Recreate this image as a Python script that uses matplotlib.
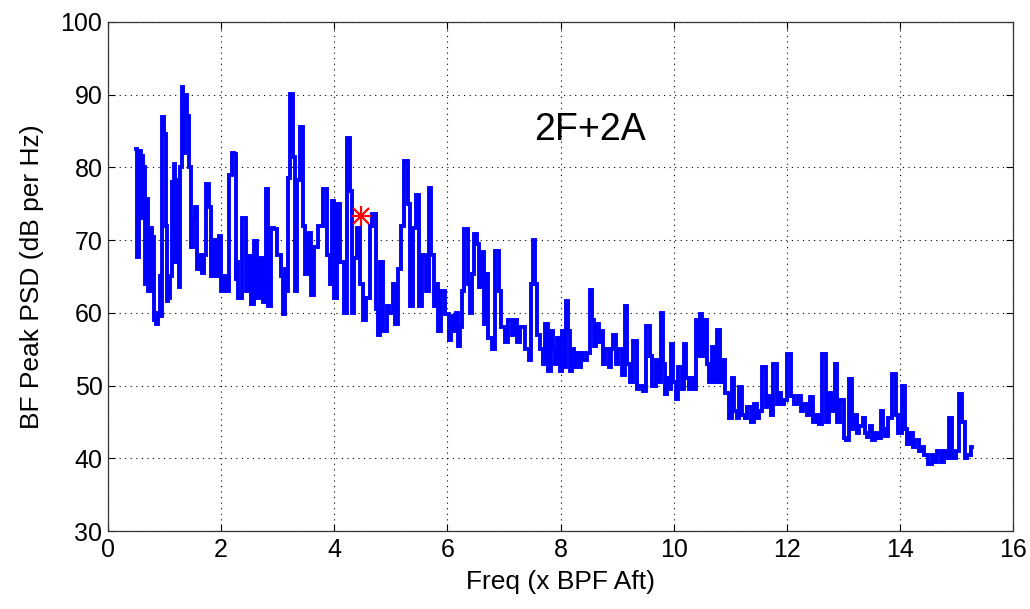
import matplotlib
matplotlib.use("Agg")
import matplotlib.pyplot as plt
import numpy as np

# ── data ─────────────────────────────────────────────────────────────────────

freq = [
    0.50, 0.51, 0.53, 0.55, 0.57, 0.60, 0.62, 0.64, 0.65, 0.69, 0.72, 0.76, 0.78, 0.80,
    0.83, 0.87, 0.90, 0.94, 0.95, 0.97, 1.01, 1.03, 1.04, 1.08, 1.11, 1.15, 1.17, 1.20,
    1.24, 1.27, 1.29, 1.31, 1.34, 1.38, 1.41, 1.45, 1.49, 1.52, 1.57, 1.59, 1.63, 1.68,
    1.71, 1.77, 1.80, 1.84, 1.89, 1.93, 1.98, 2.02, 2.07, 2.10, 2.16, 2.21, 2.25, 2.26,
    2.28, 2.33, 2.42, 2.46, 2.51, 2.55, 2.60, 2.65, 2.71, 2.76, 2.81, 2.85, 2.90, 2.97,
    3.02, 3.08, 3.11, 3.15, 3.18, 3.20, 3.25, 3.29, 3.31, 3.36, 3.41, 3.47, 3.50, 3.57,
    3.61, 3.68, 3.75, 3.85, 3.91, 3.94, 3.98, 4.01, 4.07, 4.14, 4.19, 4.26, 4.30, 4.33,
    4.38, 4.44, 4.47, 4.53, 4.60, 4.65, 4.70, 4.76, 4.79, 4.84, 4.90, 4.95, 5.00, 5.06,
    5.09, 5.16, 5.20, 5.27, 5.32, 5.36, 5.41, 5.48, 5.52, 5.59, 5.66, 5.68, 5.73, 5.78,
    5.82, 5.85, 5.92, 5.99, 6.05, 6.08, 6.14, 6.17, 6.21, 6.24, 6.28, 6.31, 6.35, 6.38,
    6.42, 6.44, 6.51, 6.54, 6.58, 6.61, 6.67, 6.70, 6.75, 6.81, 6.88, 6.93, 6.98, 7.05,
    7.11, 7.16, 7.20, 7.25, 7.32, 7.41, 7.46, 7.48, 7.53, 7.57, 7.60, 7.66, 7.71, 7.74,
    7.80, 7.85, 7.90, 7.92, 7.97, 8.01, 8.04, 8.08, 8.12, 8.15, 8.19, 8.22, 8.26, 8.31,
    8.35, 8.38, 8.43, 8.49, 8.54, 8.58, 8.61, 8.65, 8.70, 8.73, 8.77, 8.82, 8.88, 8.91,
    8.95, 9.00, 9.05, 9.11, 9.16, 9.19, 9.25, 9.32, 9.37, 9.42, 9.49, 9.55, 9.60, 9.65,
    9.71, 9.76, 9.79, 9.83, 9.87, 9.90, 9.94, 9.97, 10.02, 10.06, 10.11, 10.17, 10.20,
    10.25, 10.29, 10.34, 10.38, 10.41, 10.45, 10.48, 10.54, 10.57, 10.61, 10.64, 10.70,
    10.73, 10.79, 10.84, 10.89, 10.94, 11.00, 11.05, 11.09, 11.14, 11.17, 11.23, 11.28,
    11.33, 11.39, 11.44, 11.49, 11.53, 11.60, 11.65, 11.70, 11.74, 11.79, 11.85, 11.88,
    11.93, 11.97, 12.04, 12.11, 12.16, 12.22, 12.27, 12.32, 12.38, 12.43, 12.48, 12.54,
    12.59, 12.66, 12.71, 12.77, 12.82, 12.87, 12.92, 12.98, 13.03, 13.07, 13.12, 13.17,
    13.21, 13.26, 13.31, 13.37, 13.40, 13.44, 13.49, 13.53, 13.58, 13.63, 13.69, 13.72,
    13.77, 13.81, 13.90, 13.95, 14.00, 14.06, 14.11, 14.14, 14.20, 14.25, 14.30, 14.36,
    14.41, 14.46, 14.53, 14.59, 14.64, 14.69, 14.75, 14.80, 14.85, 14.90, 14.96, 15.01,
    15.08, 15.13, 15.17, 15.22, 15.28,
]

psd_db = [
    82.5, 74.0, 67.7, 73.0, 82.3, 81.5, 73.0, 80.0, 64.0, 75.6, 63.0, 71.7, 63.0, 70.4,
    59.0, 58.5, 60.0, 65.0, 59.5, 86.9, 84.6, 72.0, 61.6, 62.0, 65.0, 78.0, 80.5, 67.0,
    78.2, 63.5, 80.0, 91.1, 82.0, 90.0, 87.0, 80.0, 69.0, 73.0, 74.5, 66.0, 68.0, 65.5,
    68.0, 77.7, 74.5, 65.0, 70.0, 65.0, 70.5, 63.0, 65.0, 63.0, 79.0, 82.0, 81.8, 64.4,
    67.0, 62.0, 73.1, 63.0, 67.8, 61.2, 69.9, 62.0, 67.5, 61.5, 77.0, 61.0, 71.7, 71.5,
    68.0, 65.0, 59.8, 66.0, 63.0, 78.6, 90.1, 81.4, 63.0, 78.2, 85.5, 72.0, 65.3, 71.0,
    62.5, 69.0, 72.0, 77.0, 68.0, 64.0, 75.4, 62.0, 75.0, 67.0, 60.0, 84.1, 76.8, 60.0,
    67.5, 71.7, 64.0, 59.0, 62.0, 72.0, 73.6, 60.5, 57.0, 67.0, 57.5, 61.0, 60.0, 64.0,
    58.5, 66.0, 72.0, 80.9, 75.0, 61.0, 71.7, 76.2, 61.0, 68.0, 63.0, 77.2, 68.0, 61.0,
    64.0, 57.5, 63.0, 59.8, 56.2, 59.5, 57.5, 60.0, 55.5, 58.0, 63.0, 71.5, 71.5, 64.0,
    60.0, 65.3, 70.8, 69.5, 63.5, 68.3, 58.5, 65.3, 56.5, 55.0, 68.5, 63.0, 58.0, 56.0,
    59.0, 57.0, 59.0, 56.0, 58.0, 55.0, 53.5, 63.9, 70.0, 64.0, 57.0, 55.0, 53.0, 58.5,
    52.0, 57.5, 55.0, 53.0, 56.5, 52.0, 57.5, 52.5, 61.6, 57.5, 52.0, 55.0, 52.5, 54.5,
    52.5, 54.5, 53.5, 54.5, 63.2, 59.0, 55.5, 58.5, 56.0, 57.5, 53.0, 55.0, 52.5, 55.0,
    57.0, 53.0, 55.0, 51.5, 61.0, 53.0, 50.5, 56.1, 49.5, 50.0, 49.2, 58.2, 54.0, 50.0,
    53.5, 50.5, 60.0, 53.0, 48.9, 51.0, 49.5, 55.7, 50.5, 48.2, 52.5, 49.5, 55.7,
    51.0, 49.5, 51.0, 49.5, 59.0, 54.0, 59.9, 54.0, 59.0, 53.0, 50.5, 55.3,
    50.5, 57.6, 50.5, 53.5, 49.0, 45.5, 51.0, 46.5, 45.5, 49.8, 46.0, 45.5,
    47.0, 45.0, 47.5, 45.5, 46.5, 52.6, 47.0, 48.5, 46.0, 53.0, 47.5, 49.0,
    47.5, 48.0, 54.4, 48.5, 47.5, 48.5, 46.5, 47.5, 46.0, 48.4, 45.0, 46.0,
    44.7, 54.4, 45.0, 49.0, 46.5, 53.0, 45.0, 48.0, 42.8, 42.5, 50.9, 44.0,
    46.0, 43.5, 44.5, 45.6, 43.5, 42.9, 44.5, 42.5, 43.5, 42.8, 46.5, 44.0,
    43.0, 45.5, 51.6, 46.0, 43.5, 50.0, 44.0, 42.0, 43.5, 41.5, 42.5, 41.0,
    41.5, 40.5, 39.2, 40.5, 39.5, 41.0, 39.5, 41.0, 40.0, 45.6, 40.0, 41.0,
    48.8, 45.0, 40.0, 40.5, 41.5,
]

marker_freq = [4.47]
marker_db = [73.3]

annotation = "2F+2A"

# ── plot ─────────────────────────────────────────────────────────────────────

plt.rcParams["font.family"] = ["Liberation Sans", "DejaVu Sans"]

fig = plt.figure(figsize=(10.30, 6.09), dpi=100)
ax = fig.add_axes([0.1049, 0.128, 0.8786, 0.836])

ax.plot(freq, psd_db, color="#0000ff", lw=2.8, drawstyle="steps-mid",
        solid_joinstyle="miter", zorder=3)
# MATLAB-style asterisk = plus overlaid with cross
for mk, size in (("+", 15), ("x", 11)):
    ax.plot(marker_freq, marker_db, ls="none", marker=mk, color="red",
            ms=size, mew=1.6, zorder=4)

ax.text(8.52, 85.1, annotation, fontsize=27, ha="center", va="center")

ax.set_xlim(0, 16)
ax.set_ylim(30, 100)
ax.set_xticks(np.arange(0, 17, 2))
ax.set_yticks(np.arange(30, 101, 10))
ax.tick_params(direction="in", length=5, width=0.8, labelsize=18,
               top=True, right=True)
ax.tick_params(axis="x", pad=5)
ax.tick_params(axis="y", pad=4)
ax.grid(True, ls=(0, (1, 4)), color="black", lw=0.8)
for sp in ax.spines.values():
    sp.set_color("#333333")
    sp.set_linewidth(0.9)

ax.set_xlabel("Freq (x BPF Aft)", fontsize=19, labelpad=6)
ax.set_ylabel("BF Peak PSD (dB per Hz)", fontsize=19, labelpad=12)

fig.savefig("out.png", dpi=100)
